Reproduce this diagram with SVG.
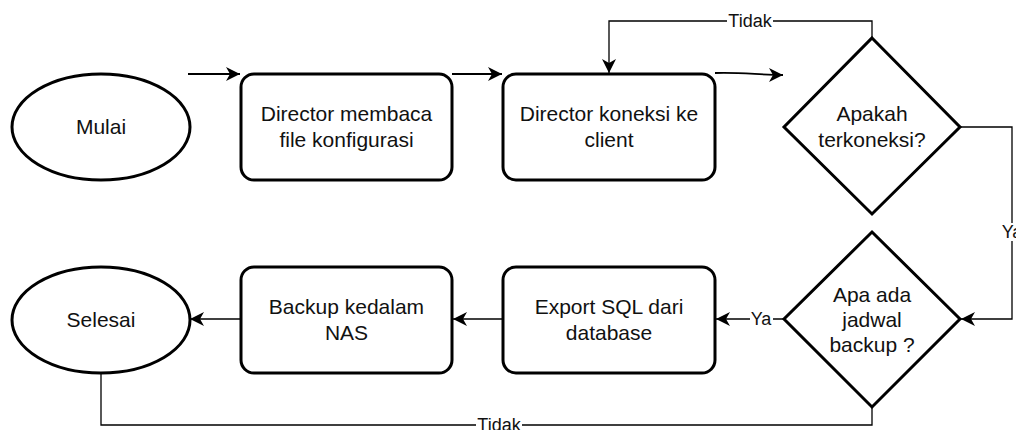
<svg xmlns="http://www.w3.org/2000/svg" width="1016" height="430" viewBox="0 0 1016 430">
<defs>
<style>
.node{fill:#fff;stroke:#000;stroke-width:3}
.t{font-family:"Liberation Sans",Arial,Helvetica,sans-serif;font-size:21px;fill:#111;text-anchor:middle}
.c{fill:none;stroke:#000;stroke-width:1.8}
.c2{fill:none;stroke:#000;stroke-width:1.3}
.lbl{font-family:"Liberation Sans",Arial,Helvetica,sans-serif;font-size:18px;fill:#111;text-anchor:middle}
.bg{fill:#fff}
</style>
<marker id="arr" viewBox="0 0 16 16" refX="15" refY="8" markerWidth="16" markerHeight="16" markerUnits="userSpaceOnUse" orient="auto">
<path d="M15,8 L1,1 L5,8 L1,15 Z" fill="#000"/>
</marker>
</defs>
<g id="connectors">
<path class="c" d="M188,74 H240" marker-end="url(#arr)"/>
<path class="c" d="M452,74 H502" marker-end="url(#arr)"/>
<path class="c" d="M715,73 C740,72 760,75 783,75" marker-end="url(#arr)"/>
<path class="c2" d="M872,38 V21 H609 V73" marker-end="url(#arr)"/>
<path class="c2" d="M960,127 H1012 V319 H961" marker-end="url(#arr)"/>
<path class="c2" d="M784,319 H716" marker-end="url(#arr)"/>
<path class="c2" d="M503,319 H453" marker-end="url(#arr)"/>
<path class="c2" d="M241,319 H190" marker-end="url(#arr)"/>
<path class="c2" d="M872,407 V425 H101 V373"/>
<rect class="bg" x="727" y="12" width="46" height="19"/>
<text class="lbl" x="750" y="27">Tidak</text>
<rect class="bg" x="1001" y="223" width="24" height="18"/>
<text class="lbl" x="1012" y="238">Ya</text>
<rect class="bg" x="750" y="310" width="23" height="18"/>
<text class="lbl" x="761" y="325">Ya</text>
<rect class="bg" x="476" y="416" width="46" height="19"/>
<text class="lbl" x="499" y="431">Tidak</text>
</g>
<g id="mulai">
<ellipse class="node" cx="101" cy="127" rx="89" ry="53"/>
<text class="t" x="101" y="134">Mulai</text>
</g>
<g id="baca-konfigurasi">
<rect class="node" x="241" y="74" width="211" height="106" rx="13"/>
<text class="t" x="346.5" y="121">Director membaca</text>
<text class="t" x="346.5" y="147">file konfigurasi</text>
</g>
<g id="koneksi-client">
<rect class="node" x="503" y="74" width="212" height="106" rx="13"/>
<text class="t" x="609" y="121">Director koneksi ke</text>
<text class="t" x="609" y="147">client</text>
</g>
<g id="terkoneksi">
<polygon class="node" points="872,38 960,127 872,214 784,127"/>
<text class="t" x="872" y="121">Apakah</text>
<text class="t" x="872" y="147">terkoneksi?</text>
</g>
<g id="jadwal-backup">
<polygon class="node" points="872,232 960,319 872,407 784,319"/>
<text class="t" x="872" y="302">Apa ada</text>
<text class="t" x="872" y="327">jadwal</text>
<text class="t" x="872" y="352">backup ?</text>
</g>
<g id="export-sql">
<rect class="node" x="503" y="267" width="212" height="106" rx="13"/>
<text class="t" x="609" y="314">Export SQL dari</text>
<text class="t" x="609" y="340">database</text>
</g>
<g id="backup-nas">
<rect class="node" x="241" y="267" width="211" height="106" rx="13"/>
<text class="t" x="346.5" y="314">Backup kedalam</text>
<text class="t" x="346.5" y="340">NAS</text>
</g>
<g id="selesai">
<ellipse class="node" cx="101" cy="320" rx="89" ry="53"/>
<text class="t" x="101" y="327">Selesai</text>
</g>
</svg>
